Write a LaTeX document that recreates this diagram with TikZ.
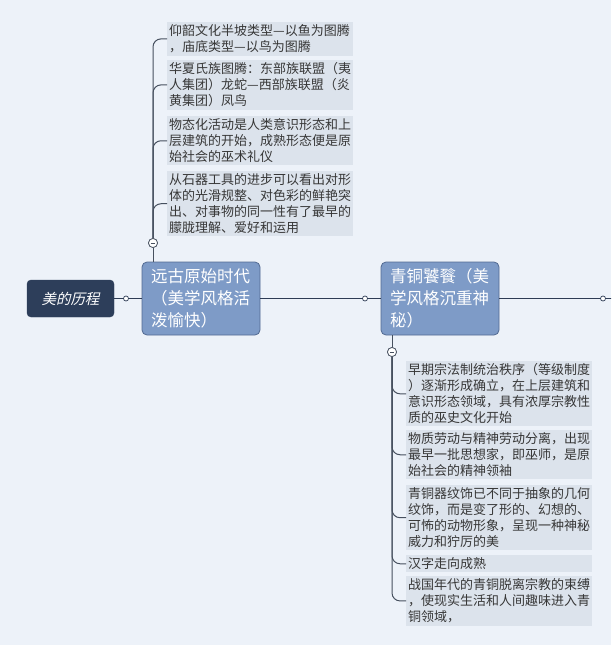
\documentclass[tikz,border=0pt]{standalone}
\usepackage{fontspec}
\newfontfamily\cjk{Noto Sans CJK SC}
\newfontfamily\cjkit[FakeSlant=0.22]{Noto Sans CJK SC}
\definecolor{bgc}{RGB}{237,242,249}
\definecolor{rootc}{RGB}{45,62,90}
\definecolor{mainc}{RGB}{126,155,199}
\definecolor{mainb}{RGB}{82,106,146}
\definecolor{subc}{RGB}{220,227,236}
\definecolor{linec}{RGB}{46,60,85}
\definecolor{spinec}{RGB}{70,80,95}
\definecolor{txtc}{RGB}{55,55,55}
\tikzset{
  rootbox/.style={draw=rootc, fill=rootc, rounded corners=4pt, minimum width=87pt, minimum height=37pt,
    inner sep=0pt, text=white, font=\cjkit\fontsize{14.5}{18}\selectfont},
  mainbox/.style={draw=mainb, line width=0.8pt, fill=mainc, rounded corners=5pt, minimum width=118pt,
    minimum height=73pt, inner sep=0pt, text=white, align=left, text width=100pt,
    font=\cjk\fontsize{16.5}{22}\selectfont},
  subbox/.style={fill=subc, anchor=north west, align=left, text width=182pt, inner xsep=2pt,
    inner ysep=2.5pt, text=txtc, font=\cjk\fontsize{13}{16}\selectfont},
  dotc/.style={circle, draw=linec, fill=white, line width=0.7pt, minimum size=5pt, inner sep=0pt},
  foldc/.style={circle, draw=spinec, fill=white, line width=0.7pt, minimum size=9pt, inner sep=0pt,
    path picture={\draw[spinec, line width=0.8pt] ([xshift=-2.3pt]path picture bounding box.center) -- ([xshift=2.3pt]path picture bounding box.center);}},
  conn/.style={draw=linec, line width=1.2pt},
  branch/.style={draw=spinec, line width=1pt, rounded corners=8pt},
}
\begin{document}
\begin{tikzpicture}[x=1pt,y=-1pt]
\fill[bgc] (0,0) rectangle (611,645);
\useasboundingbox (0,0) rectangle (611,645);
\clip (0,0) rectangle (611,645);

% main nodes
\node[rootbox] (root) at (70.5,298.5) {美的历程};
\node[mainbox] (n1) at (201,298.5) {远古原始时代\\（美学风格活\\泼愉快）};
\node[mainbox] (n2) at (440,298.5) {青铜饕餮（美\\学风格沉重神\\秘）};

\node[dotc] (d1) at (126,298.5) {};
\node[dotc] (d2) at (365,298.5) {};
\node[dotc] (d3) at (603,298.5) {};
\coordinate (rend) at (620,298.5);

\draw[conn] (root.east) -- (d1) -- (n1.west);
\draw[conn] (n1.east) -- (d2) -- (n2.west);
\draw[conn] (n2.east) -- (d3) -- (rend);

% upper branch
\node[subbox] (u1) at (167,22) {仰韶文化半坡类型—以鱼为图腾\\，庙底类型—以鸟为图腾};
\node[subbox] (u2) at (167,60) {华夏氏族图腾：东部族联盟（夷\\人集团）龙蛇—西部族联盟（炎\\黄集团）凤鸟};
\node[subbox] (u3) at (167,116) {物态化活动是人类意识形态和上\\层建筑的开始，成熟形态便是原\\始社会的巫术礼仪};
\node[subbox] (u4) at (167,171) {从石器工具的进步可以看出对形\\体的光滑规整、对色彩的鲜艳突\\出、对事物的同一性有了最早的\\朦胧理解、爱好和运用};

\node[foldc] (f1) at (153,243) {};
\draw[spinec, line width=1pt] (n1.north -| f1) -- (f1.south);
\foreach \b in {u1,u2,u3,u4}{
  \draw[branch] (f1.north) |- (\b.west);
}
\node[foldc] at (153,243) {};

% lower branch
\node[subbox] (l1) at (406,361) {早期宗法制统治秩序（等级制度\\）逐渐形成确立，在上层建筑和\\意识形态领域，具有浓厚宗教性\\质的巫史文化开始};
\node[subbox] (l2) at (406,430) {物质劳动与精神劳动分离，出现\\最早一批思想家，即巫师，是原\\始社会的精神领袖};
\node[subbox] (l3) at (406,485) {青铜器纹饰已不同于抽象的几何\\纹饰，而是变了形的、幻想的、\\可怖的动物形象，呈现一种神秘\\威力和狞厉的美};
\node[subbox] (l4) at (406,555) {汉字走向成熟};
\node[subbox] (l5) at (406,576) {战国年代的青铜脱离宗教的束缚\\，使现实生活和人间趣味进入青\\铜领域，};

\node[foldc] (f2) at (392,352) {};
\draw[spinec, line width=1pt] (n2.south -| f2) -- (f2.north);
\foreach \b in {l1,l2,l3,l4,l5}{
  \draw[branch] (f2.south) |- (\b.west);
}
\node[foldc] at (392,352) {};
\end{tikzpicture}
\end{document}
